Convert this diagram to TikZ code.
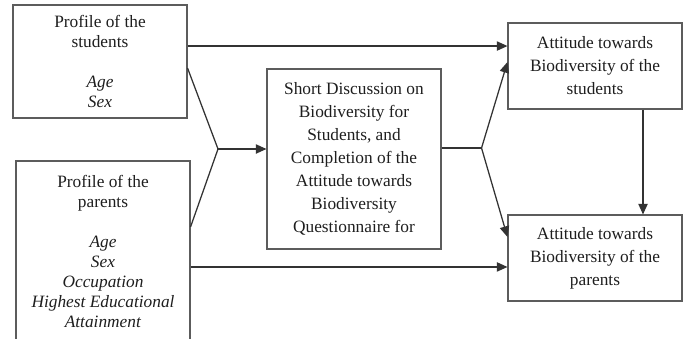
\documentclass[tikz,border=0pt]{standalone}
\usepackage{fontspec}
\setmainfont{Liberation Serif}
\usetikzlibrary{arrows.meta}
\definecolor{boxGray1}{HTML}{5c5c5c}
\definecolor{lineGray1}{HTML}{333333}
\definecolor{txtGray1}{HTML}{1e1e1e}

\begin{document}
\begin{tikzpicture}[x=0.75pt,y=-0.75pt]
    \pgfmathsetmacro{\w}{130.5}
    \tikzset{
        box1/.style={draw=boxGray1,line width=0.8pt,text=txtGray1,align=center,minimum width=\w pt,inner sep=0pt,font=\fontsize{13}{15}\selectfont},
        box2/.style={box1,font=\fontsize{13}{17.25}\selectfont},
        link1/.style={draw=lineGray1,line width=0.95pt},
        arr1/.style={link1,-{Triangle[length=8pt,width=7pt]}}
    };
    \useasboundingbox (0,0) rectangle (686,339);
    \node[box1,minimum height=84.75pt] (profStud) at (100,61.5) {Profile of the\\students\\[15pt]\textit{Age}\\\textit{Sex}};
    \node[box1,minimum height=135.75pt] (profPar) at (103,251.5) {Profile of the\\parents\\[15pt]\textit{Age}\\\textit{Sex}\\\textit{Occupation}\\\textit{Highest Educational}\\\textit{Attainment}};
    \node[box2,minimum height=135pt] (discuss) at (354,159) {Short Discussion on\\Biodiversity for\\Students, and\\Completion of the\\Attitude towards\\Biodiversity\\Questionnaire for};
    \node[box2,minimum height=64.5pt] (attStud) at (595,66) {Attitude towards\\Biodiversity of the\\students};
    \node[box2,minimum height=64.5pt] (attPar) at (595,258) {Attitude towards\\Biodiversity of the\\parents};
    % profiles straight to the attitudes
    \draw[arr1] ([yshift=11.6pt]profStud.east) coordinate (t1) -- (t1 -| attStud.west);
    \draw[arr1] ([yshift=-11.6pt]profPar.east) coordinate (b1) -- (b1 -| attPar.west);
    % profiles into the discussion
    \coordinate (m1) at (218,149);
    \draw[link1] ([yshift=-4.9pt]profStud.east) -- (m1) -- ([yshift=18.4pt]profPar.east);
    \draw[arr1] (m1) -- (m1 -| discuss.west);
    % discussion out to both attitudes
    \draw[link1] ([yshift=8.25pt]discuss.east) -- ++(40,0) coordinate (f1);
    \draw[arr1] (f1) -- ([yshift=3pt]attStud.west);
    \draw[arr1] (f1) -- ([yshift=15.75pt]attPar.west);
    \draw[arr1] ([xshift=36pt]attStud.south) -- ([xshift=36pt]attPar.north);
\end{tikzpicture}
\end{document}
